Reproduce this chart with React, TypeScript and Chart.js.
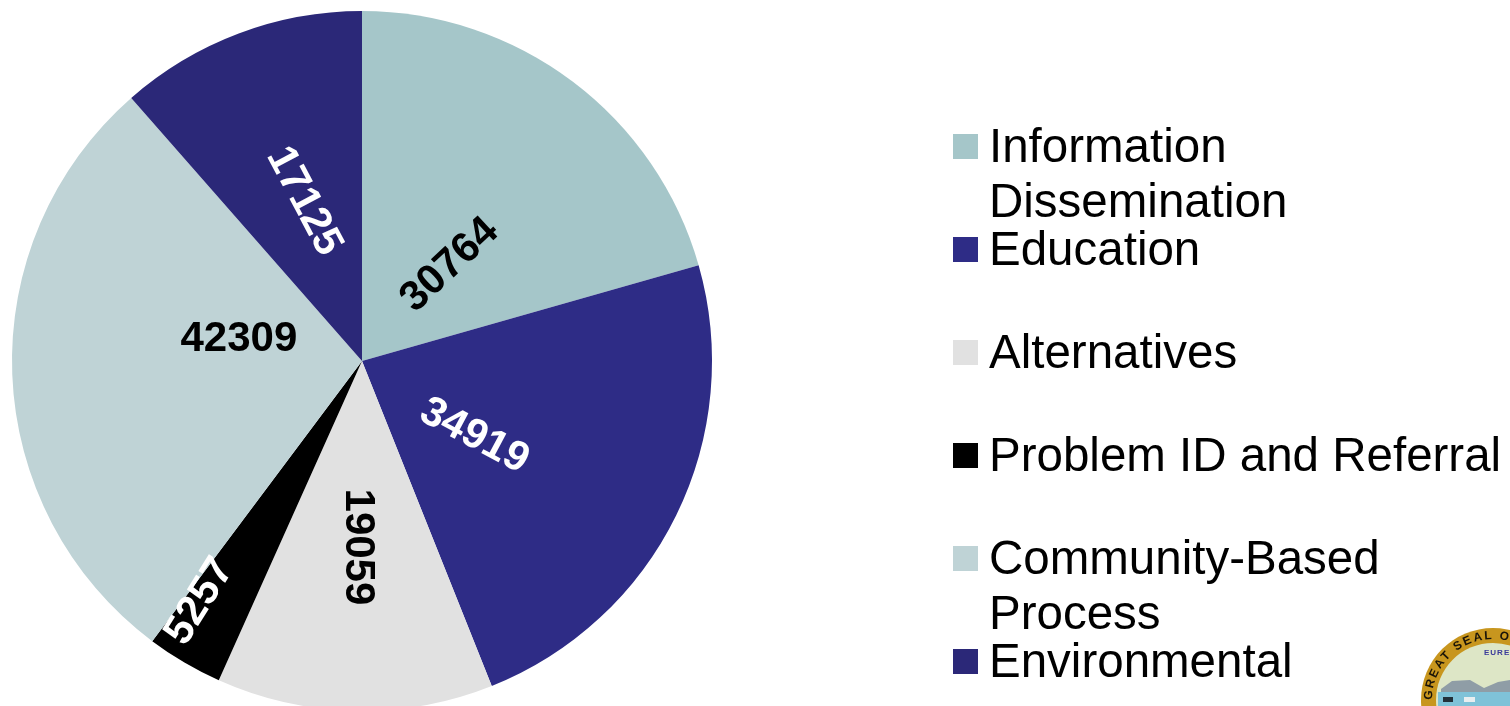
import React, { useEffect, useRef } from "react";
import { Chart, registerables } from "chart.js";

Chart.register(...registerables);

const categories = ["Information Dissemination", "Education", "Alternatives", "Problem ID and Referral", "Community-Based Process", "Environmental"];
const legendLines = [["Information", "Dissemination"], ["Education"], ["Alternatives"], ["Problem ID and Referral"], ["Community-Based", "Process"], ["Environmental"]];
const values = [30764, 34919, 19059, 5257, 42309, 17125];
const colors = ["#A5C6C9", "#2E2C86", "#E1E1E1", "#000000", "#BFD3D6", "#2B2878"];
const labelColors = ["#000000", "#FFFFFF", "#000000", "#FFFFFF", "#000000", "#FFFFFF"];
// Label placement, as polar offset from the pie centre (degrees clockwise from top, px) and text rotation
const labelAngle = [42.5, 123.8, 181.5, 214, 280, 340];
const labelRadius = [130, 135, 186, 290, 125, 170];
const labelRotation = [-43, 28, 90, -58, 0, 62];

const FONT = '"Liberation Sans", Arial, sans-serif';

const overlayPlugin = {
  id: "overlay",
  afterDraw(chart: any) {
    const ctx = chart.ctx as CanvasRenderingContext2D;
    const arcs = chart.getDatasetMeta(0).data;
    ctx.save();
    ctx.textAlign = "center";
    ctx.textBaseline = "middle";
    ctx.font = `bold 42px ${FONT}`;
    values.forEach((v, i) => {
      const a = (labelAngle[i] * Math.PI) / 180;
      const x = arcs[i].x + labelRadius[i] * Math.sin(a);
      const y = arcs[i].y - labelRadius[i] * Math.cos(a);
      ctx.save();
      ctx.translate(x, y);
      ctx.rotate((labelRotation[i] * Math.PI) / 180);
      ctx.fillStyle = labelColors[i];
      ctx.fillText(String(v), 0, 0);
      ctx.restore();
    });
    ctx.textAlign = "left";
    ctx.textBaseline = "alphabetic";
    ctx.font = `47.5px ${FONT}`;
    legendLines.forEach((lines, i) => {
      const top = 134 + i * 103;
      ctx.fillStyle = colors[i];
      ctx.fillRect(953, top, 25, 25);
      ctx.fillStyle = "#000000";
      lines.forEach((t, j) => ctx.fillText(t, 989, top + 28 + j * 55));
    });
    ctx.restore();
  },
};

function Seal() {
  return (
    <svg width={1510} height={706} style={{ position: "absolute", left: 0, top: 0 }}>
      <defs>
        <path id="sealArc" d="M 1432 700 A 61 61 0 0 1 1554 700" fill="none" />
      </defs>
      <circle cx={1493} cy={700} r={72} fill="#C8961E" />
      <circle cx={1493} cy={700} r={57} fill="#DDE6C6" />
      <polygon points="1441,689 1452,681 1470,680 1484,688 1498,682 1510,680 1510,695 1441,695" fill="#8F9DA6" />
      <rect x={1438} y={692} width={72} height={14} fill="#7FC2D8" />
      <rect x={1443} y={697} width={10} height={5} fill="#22303A" />
      <rect x={1464} y={697} width={11} height={5} fill="#E8EEF0" />
      <text fontFamily={FONT} fontWeight="bold" fontSize={12} fill="#1A1408" letterSpacing={2}>
        <textPath href="#sealArc">GREAT SEAL OF</textPath>
      </text>
      <text x={1484} y={655} fontFamily={FONT} fontWeight="bold" fontSize={8} fill="#3A3A9A" letterSpacing={1}>EUREKA</text>
    </svg>
  );
}

export default function App() {
  const ref = useRef<HTMLCanvasElement>(null);
  useEffect(() => {
    const chart = new Chart(ref.current!, {
      type: "pie",
      data: { labels: categories, datasets: [{ data: values, backgroundColor: colors, borderWidth: 0 }] },
      options: {
        animation: false,
        responsive: false,
        layout: { padding: { left: 12, top: 11, right: 798, bottom: 11 } },
        plugins: { legend: { display: false }, tooltip: { enabled: false } },
      },
      plugins: [overlayPlugin],
    } as any);
    return () => chart.destroy();
  }, []);
  return (
    <div style={{ position: "fixed", left: 0, top: 0, width: 1510, height: 706, overflow: "hidden", background: "#fff" }}>
      <canvas ref={ref} width={1510} height={722} style={{ position: "absolute", left: 0, top: 0 }} />
      <Seal />
    </div>
  );
}
